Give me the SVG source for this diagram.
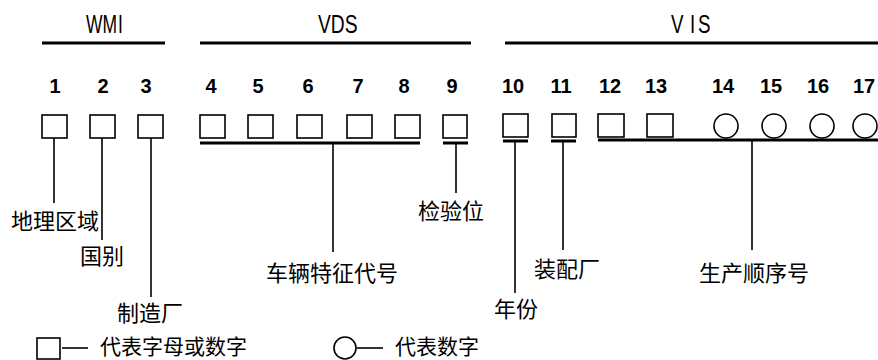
<svg xmlns="http://www.w3.org/2000/svg" width="878" height="360" viewBox="0 0 878 360">
<style>
.bg{fill:#fff}
.hdr{font-family:"Liberation Sans",Arial,sans-serif;font-size:25px;fill:#000}
.num{font-family:"Liberation Sans",Arial,sans-serif;font-weight:bold;font-size:20px;fill:#000;text-anchor:middle}
.lbl{font-family:"Noto Sans CJK SC","Noto Sans",sans-serif;font-size:22px;fill:#000}
.leg{font-family:"Noto Sans CJK SC","Noto Sans",sans-serif;font-size:21px;fill:#000}
.box{fill:#fff;stroke:#000;stroke-width:1.6}
.bar{stroke:#000;stroke-width:3;fill:none}
.ln{stroke:#000;stroke-width:1.6;fill:none}
</style>
<rect class="bg" x="0" y="0" width="878" height="360"/>
<g id="headers">
<line class="bar" x1="42" y1="43" x2="165" y2="43"/>
<line class="bar" x1="200" y1="43" x2="471" y2="43"/>
<line class="bar" x1="505" y1="43" x2="878" y2="43"/>
<text class="hdr" transform="translate(86,33) scale(0.7,1)">WM</text>
<text class="hdr" transform="translate(118,33) scale(0.7,1)">I</text>
<text class="hdr" transform="translate(318,33) scale(0.77,1)">VDS</text>
<text class="hdr" transform="translate(671,33) scale(0.75,1)">V</text>
<text class="hdr" transform="translate(690,33) scale(0.75,1)">I</text>
<text class="hdr" transform="translate(698,33) scale(0.75,1)">S</text>
</g>
<g id="numbers">
<text class="num" x="55" y="93">1</text>
<text class="num" x="103" y="93">2</text>
<text class="num" x="146" y="93">3</text>
<text class="num" x="211" y="93">4</text>
<text class="num" x="258" y="93">5</text>
<text class="num" x="308" y="93">6</text>
<text class="num" x="358" y="93">7</text>
<text class="num" x="404" y="93">8</text>
<text class="num" x="452" y="93">9</text>
<text class="num" x="513" y="93">10</text>
<text class="num" x="561" y="93">11</text>
<text class="num" x="610" y="93">12</text>
<text class="num" x="656" y="93">13</text>
<text class="num" x="723" y="93">14</text>
<text class="num" x="771" y="93">15</text>
<text class="num" x="818" y="93">16</text>
<text class="num" x="864" y="93">17</text>
</g>
<g id="node-1"><rect class="box" x="42" y="115" width="25" height="23"/></g>
<g id="node-2"><rect class="box" x="90" y="115" width="25" height="23"/></g>
<g id="node-3"><rect class="box" x="138" y="115" width="25" height="23"/></g>
<g id="node-4"><rect class="box" x="200" y="115" width="25" height="23"/></g>
<g id="node-5"><rect class="box" x="248" y="115" width="25" height="23"/></g>
<g id="node-6"><rect class="box" x="297" y="115" width="25" height="23"/></g>
<g id="node-7"><rect class="box" x="347" y="115" width="25" height="23"/></g>
<g id="node-8"><rect class="box" x="395" y="115" width="25" height="23"/></g>
<g id="node-9"><rect class="box" x="443" y="115" width="24" height="23"/></g>
<g id="node-10"><rect class="box" x="503" y="114" width="25" height="23"/></g>
<g id="node-11"><rect class="box" x="552" y="114" width="24" height="23"/></g>
<g id="node-12"><rect class="box" x="598" y="114" width="26" height="23"/></g>
<g id="node-13"><rect class="box" x="647" y="114" width="26" height="23"/></g>
<g id="node-14"><circle class="box" cx="726" cy="126" r="12"/></g>
<g id="node-15"><circle class="box" cx="774" cy="126" r="12"/></g>
<g id="node-16"><circle class="box" cx="822" cy="126" r="12"/></g>
<g id="node-17"><circle class="box" cx="865" cy="126" r="12"/></g>
<g id="connectors">
<line class="bar" x1="200" y1="143" x2="420" y2="143"/>
<line class="bar" x1="443" y1="143" x2="468" y2="143"/>
<line class="bar" x1="503" y1="141" x2="528" y2="141"/>
<line class="bar" x1="551" y1="141" x2="576" y2="141"/>
<line class="bar" x1="598" y1="140" x2="878" y2="140"/>
<line class="ln" x1="54" y1="138" x2="54" y2="203"/>
<line class="ln" x1="102" y1="138" x2="102" y2="240"/>
<line class="ln" x1="151" y1="138" x2="151" y2="297"/>
<line class="ln" x1="333" y1="144" x2="333" y2="252"/>
<line class="ln" x1="456" y1="144" x2="456" y2="193"/>
<line class="ln" x1="515" y1="142" x2="515" y2="293"/>
<line class="ln" x1="563" y1="142" x2="563" y2="250"/>
<line class="ln" x1="752" y1="141" x2="752" y2="250"/>
</g>
<g id="labels">
<text class="lbl" x="11" y="229">地理区域</text>
<text class="lbl" x="80" y="264">国别</text>
<text class="lbl" x="117" y="321">制造厂</text>
<text class="lbl" x="266" y="281">车辆特征代号</text>
<text class="lbl" x="418" y="219">检验位</text>
<text class="lbl" x="494" y="317">年份</text>
<text class="lbl" x="534" y="277">装配厂</text>
<text class="lbl" x="699" y="281">生产顺序号</text>
</g>
<g id="legend">
<rect class="box" x="37" y="338" width="23" height="21"/>
<line class="ln" x1="62" y1="348" x2="88" y2="348"/>
<text class="leg" x="100" y="354">代表字母或数字</text>
<circle class="box" cx="345" cy="348" r="11"/>
<line class="ln" x1="357" y1="348" x2="383" y2="348"/>
<text class="leg" x="395" y="354">代表数字</text>
</g>
</svg>
